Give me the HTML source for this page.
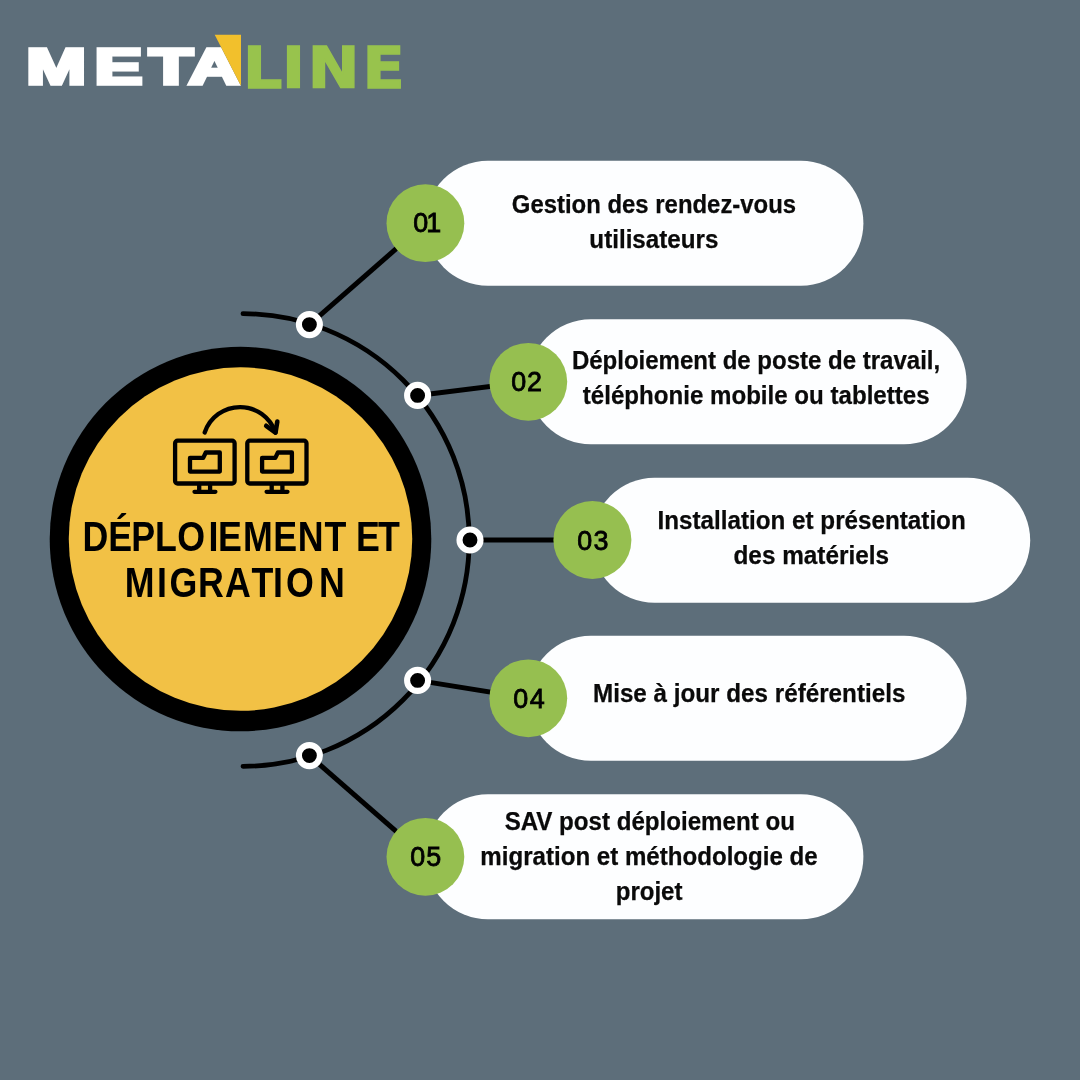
<!DOCTYPE html>
<html lang="fr">
<head>
<meta charset="utf-8">
<title>Metaline – Déploiement et migration</title>
<style>
html,body{margin:0;padding:0;width:1080px;height:1080px;overflow:hidden;background:#5d6e7a;}
svg{display:block;position:absolute;left:0;top:0;will-change:transform;}
text{font-family:"Liberation Sans",sans-serif;}
.lbl{font-weight:700;font-size:25px;fill:#0a0a0a;stroke:#0a0a0a;stroke-width:.25px;}
.num{font-weight:400;font-size:26.9px;fill:#000;stroke:#000;stroke-width:.8px;}
.ttl{font-weight:700;font-size:42.6px;fill:#000;}
</style>
</head>
<body>
<svg width="1080" height="1080" viewBox="0 0 1080 1080">
  <rect width="1080" height="1080" fill="#5d6e7a"/>

  <!-- logo -->
  <defs>
    <clipPath id="cutA"><polygon points="0,0 196.9,0 241,86 241,120 0,120"/></clipPath>
  </defs>
  <g clip-path="url(#cutA)">
    <g transform="scale(1.45,1)">
      <text id="meta" x="18.04 65.25 102.75 129.99" y="84.25" font-size="49.6" font-weight="700" fill="#fff" stroke="#fff" stroke-width="3.7" stroke-linejoin="miter">META</text>
    </g>
  </g>
  <polygon points="214.7,34.7 241,34.7 241,86" fill="#f2c02c"/>
  <g transform="scale(1.08,1)">
    <text id="line" x="224.9 261 284.9 335.7" y="88" style="font-family:'DejaVu Sans','Liberation Sans',sans-serif" font-size="57.2" font-weight="700" fill="#98c34d" stroke="#98c34d" stroke-width="1.4" stroke-linejoin="miter">LINE</text>
  </g>

  <!-- connector lines -->
  <g stroke="#000" stroke-width="5" fill="none" stroke-linecap="butt">
    <line x1="309.4" y1="324.6" x2="425.4" y2="223.2"/>
    <line x1="417.6" y1="395.4" x2="528.3" y2="381.8"/>
    <line x1="470" y1="539.9" x2="592" y2="539.9"/>
    <line x1="417.6" y1="680.4" x2="528.3" y2="698.3"/>
    <line x1="309.4" y1="755.6" x2="425.4" y2="856.8"/>
  </g>
  <!-- arc -->
  <path d="M243 313.7 A226.3 226.3 0 0 1 243 766.3" fill="none" stroke="#000" stroke-width="4.8" stroke-linecap="round"/>
  <!-- dots -->
  <g fill="#000" stroke="#fff" stroke-width="6.1">
    <circle cx="309.4" cy="324.6" r="10.5"/>
    <circle cx="417.6" cy="395.4" r="10.5"/>
    <circle cx="470" cy="540" r="10.5"/>
    <circle cx="417.6" cy="680.4" r="10.5"/>
    <circle cx="309.4" cy="755.6" r="10.5"/>
  </g>

  <!-- big circle -->
  <ellipse cx="240.5" cy="539.05" rx="190.8" ry="192.3" fill="#000"/>
  <circle cx="240.5" cy="539.1" r="171.75" fill="#f2c145"/>

  <!-- pills -->
  <g fill="#fdfeff">
    <rect x="425.4" y="160.7" width="438" height="125" rx="62.5"/>
    <rect x="528.3" y="319.3" width="438.2" height="125" rx="62.5"/>
    <rect x="592" y="477.8" width="438.2" height="125" rx="62.5"/>
    <rect x="528.3" y="635.8" width="438.2" height="125" rx="62.5"/>
    <rect x="425.4" y="794.3" width="438" height="125" rx="62.5"/>
  </g>
  <!-- green circles -->
  <g fill="#96bf50">
    <circle cx="425.4" cy="223.2" r="38.9"/>
    <circle cx="528.3" cy="381.8" r="38.9"/>
    <circle cx="592.4" cy="540" r="39"/>
    <circle cx="528.3" cy="698.3" r="38.9"/>
    <circle cx="425.4" cy="856.8" r="38.9"/>
  </g>
  <g class="num">
    <text x="413.15 426.3" y="232">01</text>
    <text x="511.15 527.05" y="391">02</text>
    <text x="577.15 593.6" y="550">03</text>
    <text x="513.15 529.7" y="708">04</text>
    <text x="410.15 426.2" y="866">05</text>
  </g>

  <!-- labels -->
  <g class="lbl">
    <text x="511.80" y="213" textLength="284.31" lengthAdjust="spacingAndGlyphs">Gestion des rendez-vous</text>
    <text x="589.35" y="248" textLength="129.11" lengthAdjust="spacingAndGlyphs">utilisateurs</text>

    <text x="571.89" y="369" textLength="368.30" lengthAdjust="spacingAndGlyphs">Déploiement de poste de travail,</text>
    <text x="582.80" y="404" textLength="346.80" lengthAdjust="spacingAndGlyphs">téléphonie mobile ou tablettes</text>

    <text x="657.50" y="529" textLength="308.22" lengthAdjust="spacingAndGlyphs">Installation et présentation</text>
    <text x="733.49" y="564" textLength="155.57" lengthAdjust="spacingAndGlyphs">des matériels</text>

    <text x="592.99" y="702" textLength="312.40" lengthAdjust="spacingAndGlyphs">Mise à jour des référentiels</text>

    <text x="504.63" y="830" textLength="290.24" lengthAdjust="spacingAndGlyphs">SAV post déploiement ou</text>
    <text x="480.34" y="865" textLength="337.38" lengthAdjust="spacingAndGlyphs">migration et méthodologie de</text>
    <text x="615.79" y="900" textLength="66.66" lengthAdjust="spacingAndGlyphs">projet</text>
  </g>

  <!-- centre title -->
  <g class="ttl" transform="scale(0.84,1)">
    <text x="98.2 128.95 156.16 184.43 210.95 248.36 259.66 289.34 325.43 354.5 386.21 411.77 423.71 450.08" y="551">DÉPLOIEMENT ET</text>
    <text x="148.57 186.82 201.79 235.84 267.8 299.49 325.15 340.59 379.74" y="597">MIGRATION</text>
  </g>

  <!-- icon -->
  <g fill="none" stroke="#000" stroke-width="4.3" stroke-linecap="round" stroke-linejoin="round">
    <rect x="175.1" y="440.7" width="59.5" height="42.8" rx="2.5"/>
    <rect x="247.3" y="440.7" width="59.2" height="42.8" rx="2.5"/>
    <path d="M199.2 484v7.5M210.1 484v7.5M194.5 491.8h20.9"/>
    <path d="M271.7 484v7.5M282.4 484v7.5M266.6 491.8h20.9"/>
    <path d="M190 457.9h13.2l2.6-5.4h14v19.1h-29.8z"/>
    <path d="M262.1 457.9h13.2l2.6-5.4h14v19.1h-29.8z"/>
    <path d="M204.7 432.5A37.3 37.3 0 0 1 275.4 432.4"/>
    <path d="M266.2 425.8L275.5 432.6L277.3 421.6" stroke-width="4.6"/>
  </g>
</svg>
</body>
</html>
